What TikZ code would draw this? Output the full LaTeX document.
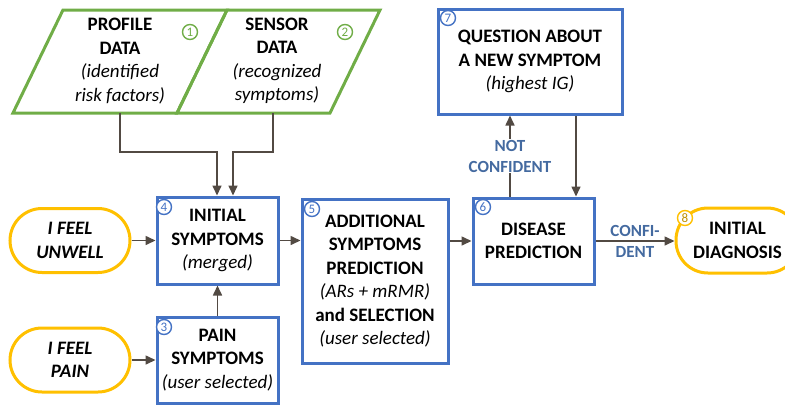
\documentclass[tikz,border=0pt]{standalone}
\usepackage{fontspec}
\setmainfont{Carlito}
\usetikzlibrary{arrows.meta}
\definecolor{cgreen}{RGB}{112,173,71}
\definecolor{cblue}{RGB}{68,114,196}
\definecolor{cyellow}{RGB}{255,192,0}
\definecolor{cdark}{RGB}{191,144,0}
\definecolor{carrow}{RGB}{82,74,67}
\definecolor{clabel}{RGB}{68,106,160}
\begin{document}
\begin{tikzpicture}[x=1pt,y=-1pt,
 txt/.style={font=\fontsize{19}{23.5}\selectfont, align=center},
 bbox/.style={draw=cblue, line width=3pt, fill=white, inner sep=0pt, txt},
 ybox/.style={draw=cyellow, line width=3pt, fill=white, rounded corners=32pt, inner sep=0pt, txt},
 gpar/.style={draw=cgreen, line width=3pt},
 num/.style={circle, draw=cblue, line width=1.4pt, fill=white, text=cblue, inner sep=0pt, minimum size=15pt, font=\fontsize{13}{13}\selectfont},
 arr/.style={draw=carrow, line width=1.6pt, -{Triangle[length=10pt,width=9pt]}},
 lab/.style={text=clabel, font=\bfseries\fontsize{17}{21}\selectfont, align=center, inner sep=1pt}
]
\useasboundingbox (0,0) rectangle (785,405);

% parallelograms
\draw[gpar] (63,10) -- (227,10) -- (177,113) -- (13,113) -- cycle;
\draw[gpar] (227,10) -- (380,10) -- (330,113) -- (177,113) -- cycle;
\node[txt] (profile) at (120,61) {\textbf{PROFILE}\\\textbf{DATA}\\\textit{(identified}\\\textit{risk factors)}};
\node[txt] (sensor) at (277,61) {\textbf{SENSOR}\\\textbf{DATA}\\\textit{(recognized}\\\textit{symptoms)}};
\coordinate (pb) at (120,113);
\coordinate (sb) at (273,113);
\node[num, draw=cgreen, text=cgreen] (n1) at (190,32) {1};
\node[num, draw=cgreen, text=cgreen] (n2) at (345,32) {2};

% yellow terminals
\node[ybox, minimum width=120pt, minimum height=64pt] (uw) at (70,240.5) {\textbf{\textit{I FEEL}}\\\textbf{\textit{UNWELL}}};
\node[ybox, minimum width=120pt, minimum height=64pt] (pn) at (70,360) {\textbf{\textit{I FEEL}}\\\textbf{\textit{PAIN}}};
\node[ybox, minimum width=123pt, minimum height=65pt] (b8) at (737.5,240.5) {\textbf{INITIAL}\\\textbf{DIAGNOSIS}};

% blue boxes
\node[bbox, minimum width=121pt, minimum height=87pt] (b4) at (217.5,240.5) {\textbf{INITIAL}\\\textbf{SYMPTOMS}\\\textit{(merged)}};
\node[bbox, minimum width=121pt, minimum height=86pt] (b3) at (217.5,360) {\textbf{PAIN}\\\textbf{SYMPTOMS}\\\textit{(user selected)}};
\node[bbox, minimum width=146pt, minimum height=164pt] (b5) at (375,281) {\textbf{ADDITIONAL}\\\textbf{SYMPTOMS}\\\textbf{PREDICTION}\\\textit{(ARs + mRMR)}\\\textbf{and SELECTION}\\\textit{(user selected)}};
\node[bbox, minimum width=121pt, minimum height=86pt] (b6) at (533.5,241) {\textbf{DISEASE}\\\textbf{PREDICTION}};
\node[bbox, minimum width=184pt, minimum height=105pt] (b7) at (530,61.5) {\textbf{QUESTION ABOUT}\\\textbf{A NEW SYMPTOM}\\\textit{(highest IG)}};

% number circles
\node[num] (n4) at (164,207) {4};
\node[num] (n3) at (164,327) {3};
\node[num] (n5) at (312,209) {5};
\node[num] (n6) at (483,207) {6};
\node[num] (n7) at (448,18) {7};
\node[num, draw=cyellow, text=cdark] (n8) at (685,218) {8};

% connectors
\draw[arr] (pb) -- ++(0,39) -| ([xshift=-0.5pt]b4.north);
\draw[arr] (sb) -- ++(0,39) -| ([xshift=15.5pt]b4.north);
\draw[arr] (uw) -- (b4);
\draw[arr] (pn) -- (b3);
\draw[arr] (b3) -- (b4);
\draw[arr] (b4.east) -- (b4.east -| b5.west);
\draw[arr] (b6.west -| b5.east) -- (b6.west);
\draw[arr] (b6.east) -- (b6.east -| b8.west) node[lab, midway] {CONFI-\\DENT};
\draw[arr] ([xshift=-23.5pt]b6.north) -- ([xshift=-23.5pt]b6.north |- b7.south) node[lab, midway, fill=white] {NOT\\CONFIDENT};
\draw[arr] ([xshift=46pt]b7.south) -- ([xshift=46pt]b7.south |- b6.north);
\end{tikzpicture}
\end{document}
